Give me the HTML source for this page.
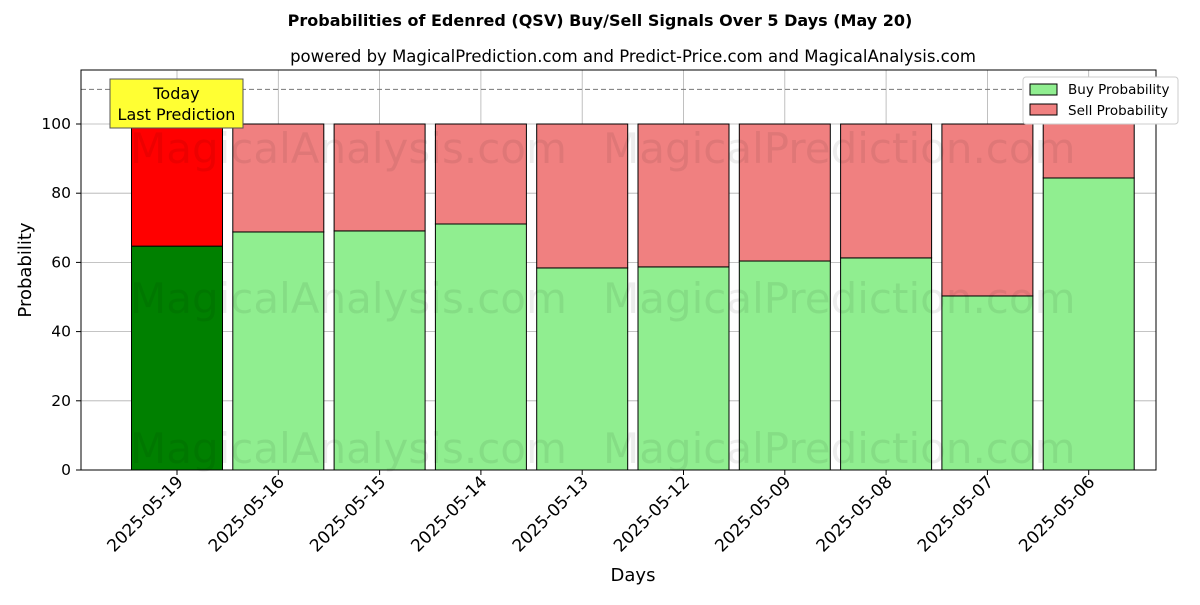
<!DOCTYPE html>
<html><head><meta charset="utf-8"><style>
body{margin:0;background:#fff;font-family:"Liberation Sans","DejaVu Sans",sans-serif;}
</style></head><body>
<svg id="chart" width="1200" height="600" xmlns="http://www.w3.org/2000/svg" font-family="DejaVu Sans, Liberation Sans, sans-serif">
<text x="600" y="26" text-anchor="middle" font-size="16" font-weight="bold">Probabilities of Edenred (QSV) Buy/Sell Signals Over 5 Days (May 20)</text>
<text x="633" y="62" text-anchor="middle" font-size="16.5">powered by MagicalPrediction.com and Predict-Price.com and MagicalAnalysis.com</text>
<g id="grid"></g>
<g id="bars"></g>
<g id="wm" font-size="42" fill="rgba(0,0,0,0.07)">
<text x="130" y="163">MagicalAnalysis.com</text><text x="603" y="163">MagicalPrediction.com</text>
<text x="130" y="313">MagicalAnalysis.com</text><text x="603" y="313">MagicalPrediction.com</text>
<text x="130" y="463">MagicalAnalysis.com</text><text x="603" y="463">MagicalPrediction.com</text>
</g>
<line x1="81" x2="1156" y1="89.4" y2="89.4" stroke="#777" stroke-dasharray="5,3"/>
<rect x="81" y="70" width="1075" height="400" fill="none" stroke="#000"/>
<g id="axes"></g>
<g>
<rect x="110" y="79" width="133" height="49" fill="#ffff33" stroke="#555"/>
<text x="176.5" y="99" text-anchor="middle" font-size="16">Today</text>
<text x="176.5" y="120" text-anchor="middle" font-size="16">Last Prediction</text>
</g>
<g>
<rect x="1023" y="77" width="155" height="47" fill="#fff" stroke="#ccc" rx="3"/>
<rect x="1030" y="84" width="27" height="11" fill="#90ee90" stroke="#000"/>
<text x="1068" y="94" font-size="13.5">Buy Probability</text>
<rect x="1030" y="104" width="27" height="11" fill="#f08080" stroke="#000"/>
<text x="1068" y="115" font-size="13.5">Sell Probability</text>
</g>
<text x="633" y="581" text-anchor="middle" font-size="18">Days</text>
<text transform="translate(31,270) rotate(-90)" text-anchor="middle" font-size="18">Probability</text>
</svg>
<script>
const categories=["2025-05-19","2025-05-16","2025-05-15","2025-05-14","2025-05-13","2025-05-12","2025-05-09","2025-05-08","2025-05-07","2025-05-06"];
const buyValues=[64.7,68.8,69.1,71.1,58.4,58.7,60.4,61.3,50.3,84.4];
const yTicks=[0,20,40,60,80,100];
const NS="http://www.w3.org/2000/svg";
const y=v=>470-v*3.46;
const x=i=>177+i*101.3;
const bw=91;
function mk(t,a,p){const e=document.createElementNS(NS,t);for(const k in a)e.setAttribute(k,a[k]);p.appendChild(e);return e;}
const grid=document.getElementById('grid'),bars=document.getElementById('bars'),axes=document.getElementById('axes');
yTicks.forEach(t=>{
 const g=mk('line',{x1:81,x2:1156,y1:y(t),y2:y(t),stroke:'#b0b0b0','stroke-width':0.8},grid);
 
 
 mk('line',{x1:76,x2:81,y1:y(t),y2:y(t),stroke:'#000'},axes);
 const l=mk('text',{x:71,y:y(t)+5,'text-anchor':'end','font-size':15.5},axes);l.textContent=t;
 
 
});
categories.forEach((c,i)=>{
 const g=mk('line',{x1:x(i),x2:x(i),y1:70,y2:470,stroke:'#b0b0b0','stroke-width':0.8},grid);
 
 
 const b=buyValues[i];
 const buy=mk('rect',{x:x(i)-bw/2,y:y(b),width:bw,height:y(0)-y(b),fill:i==0?'#008000':'#90ee90',stroke:'#000'},bars);
 
 
 const sell=mk('rect',{x:x(i)-bw/2,y:y(100),width:bw,height:y(b)-y(100),fill:i==0?'#ff0000':'#f08080',stroke:'#000'},bars);
 
 
 mk('line',{x1:x(i),x2:x(i),y1:470,y2:475,stroke:'#000'},axes);
 const l=mk('text',{x:x(i)+7,y:483,'text-anchor':'end','font-size':17,transform:`rotate(-45 ${x(i)+7} 483)`},axes);l.textContent=c;
 
 
});
</script>
</body></html>
